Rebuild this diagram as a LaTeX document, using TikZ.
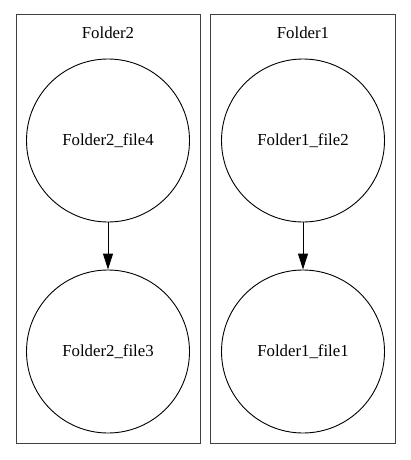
\documentclass[tikz,border=0pt]{standalone}
\usepackage{fontspec}
\setmainfont{Liberation Serif}
\usetikzlibrary{arrows.meta}
\begin{document}
\begin{tikzpicture}[x=1pt,y=-1pt,
  cluster/.style={draw=black!75,line width=1pt},
  filenode/.style={circle,draw,line width=0.9pt,minimum size=163pt,inner sep=0pt,font=\fontsize{16.8}{19}\selectfont},
  lbl/.style={font=\fontsize{16.8}{19}\selectfont},
  edge/.style={-{Triangle[length=16pt,width=10pt]},line width=0.9pt}]
\useasboundingbox (0,0) rectangle (411,460);
\node[cluster,draw,minimum width=184pt,minimum height=428pt,inner sep=0pt] (c2) at (108,229) {};
\node[cluster,draw,minimum width=185pt,minimum height=428pt,inner sep=0pt] (c1) at (302.5,229) {};
\node[lbl] (l2) at (108,33) {Folder2};
\node[lbl] (l1) at (303,33) {Folder1};
\node[filenode] (f4) at (108,140.5) {Folder2\_file4};
\node[filenode] (f3) at (108,351.5) {Folder2\_file3};
\node[filenode] (f2) at (303,140.5) {Folder1\_file2};
\node[filenode] (f1) at (303,351.5) {Folder1\_file1};
\draw[edge] (f4) -- (f3);
\draw[edge] (f2) -- (f1);
\end{tikzpicture}
\end{document}
